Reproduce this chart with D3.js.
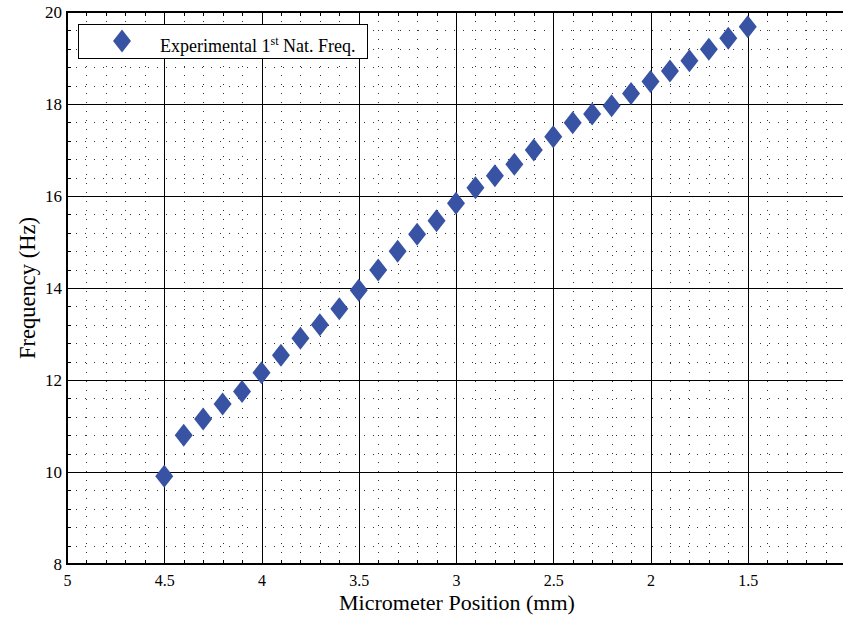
<!DOCTYPE html>
<html>
<head>
<meta charset="utf-8">
<script src="https://cdn.jsdelivr.net/npm/d3@7"></script>
<style>
  body { margin: 0; background: #fff; }
  svg text { font-family: "Liberation Serif", "Times New Roman", serif; fill: #000; }
</style>
</head>
<body>
<svg id="chart" width="843" height="619"></svg>
<script>
// Micrometer positions (mm) and measured first natural frequency (Hz)
const positions = [4.5, 4.4, 4.3, 4.2, 4.1, 4.0, 3.9, 3.8, 3.7, 3.6, 3.5,
                   3.4, 3.3, 3.2, 3.1, 3.0, 2.9, 2.8, 2.7, 2.6, 2.5,
                   2.4, 2.3, 2.2, 2.1, 2.0, 1.9, 1.8, 1.7, 1.6, 1.5];
const frequencies = [9.91, 10.80, 11.15, 11.48, 11.75, 12.16, 12.54, 12.91, 13.20, 13.55, 13.95,
                     14.39, 14.80, 15.17, 15.46, 15.84, 16.18, 16.44, 16.69, 17.00, 17.29,
                     17.59, 17.78, 17.96, 18.23, 18.49, 18.72, 18.94, 19.19, 19.43, 19.68];
const xTicks = [5, 4.5, 4, 3.5, 3, 2.5, 2, 1.5];
const yTicks = [8, 10, 12, 14, 16, 18, 20];
const xMinorTicks = d3.range(10, 51).map(d => d / 10);
const yMinorTicks = d3.range(0, 31).map(i => +(8 + i * 0.4).toFixed(1));
const xLabel = "Micrometer Position (mm)";
const yLabel = "Frequency (Hz)";
const seriesName = "Experimental 1";

const serif = '"Liberation Serif", "Times New Roman", serif';
const svg = d3.select("#chart");
const plotLeft = 67, plotTop = 12, plotRight = 845, plotBottom = 564;

const x = d3.scaleLinear().domain([5, 1]).range([plotLeft, plotRight]);
const y = d3.scaleLinear().domain([8, 20]).range([plotBottom, plotTop]);

const crisp = v => Math.round(v) + 0.5;

// Minor dotted grid
const grid = svg.append("g");
grid.selectAll("line.mx").data(xMinorTicks).join("line")
  .attr("x1", d => crisp(x(d))).attr("x2", d => crisp(x(d)))
  .attr("y1", plotTop).attr("y2", plotBottom)
  .attr("stroke", "#333").attr("stroke-width", 1).attr("stroke-dasharray", "1,8");
grid.selectAll("line.my").data(yMinorTicks).join("line")
  .attr("y1", d => crisp(y(d))).attr("y2", d => crisp(y(d)))
  .attr("x1", plotLeft).attr("x2", plotRight)
  .attr("stroke", "#333").attr("stroke-width", 1).attr("stroke-dasharray", "1,8");

// Major solid grid
grid.selectAll("line.gx").data(xTicks).join("line")
  .attr("x1", d => crisp(x(d))).attr("x2", d => crisp(x(d)))
  .attr("y1", plotTop).attr("y2", plotBottom)
  .attr("stroke", "#000").attr("stroke-width", 1);
grid.selectAll("line.gy").data(yTicks).join("line")
  .attr("y1", d => crisp(y(d))).attr("y2", d => crisp(y(d)))
  .attr("x1", plotLeft).attr("x2", plotRight)
  .attr("stroke", "#000").attr("stroke-width", 1);

// Inward minor ticks on left, bottom and top edges
const ticks = svg.append("g").attr("stroke", "#000").attr("stroke-width", 1);
ticks.selectAll("line.tl").data(yMinorTicks).join("line")
  .attr("x1", plotLeft).attr("x2", plotLeft + 4)
  .attr("y1", d => crisp(y(d))).attr("y2", d => crisp(y(d)));
ticks.selectAll("line.tb").data(xMinorTicks).join("line")
  .attr("x1", d => crisp(x(d))).attr("x2", d => crisp(x(d)))
  .attr("y1", plotBottom).attr("y2", plotBottom - 4);
ticks.selectAll("line.tt").data(xMinorTicks).join("line")
  .attr("x1", d => crisp(x(d))).attr("x2", d => crisp(x(d)))
  .attr("y1", plotTop).attr("y2", plotTop + 4);

// Axis frame
svg.append("path")
  .attr("d", `M${plotRight},${plotTop}H${plotLeft}V${plotBottom}H${plotRight}`)
  .attr("stroke", "#000").attr("stroke-width", 2).attr("fill", "none");

// Tick labels via d3 axes
const xAxis = d3.axisBottom(x).tickValues(xTicks).tickSize(0).tickPadding(11)
  .tickFormat(d3.format("~g"));
svg.append("g").attr("transform", `translate(0,${plotBottom})`).call(xAxis)
  .attr("font-family", serif).attr("font-size", 16)
  .call(g => g.select(".domain").remove());

const yAxis = d3.axisLeft(y).tickValues(yTicks).tickSize(0).tickPadding(5)
  .tickFormat(d3.format("~g"));
svg.append("g").attr("transform", `translate(${plotLeft},0)`).call(yAxis)
  .attr("font-family", serif).attr("font-size", 17)
  .call(g => g.select(".domain").remove());

// Data markers (diamonds)
const diamond = (w, h) => `M0,${-h / 2}L${w / 2},0L0,${h / 2}L${-w / 2},0Z`;
const markerColor = "#3953a4";
svg.append("g").selectAll("path").data(positions.map((p, i) => [p, frequencies[i]])).join("path")
  .attr("transform", d => `translate(${x(d[0])},${y(d[1])})`)
  .attr("d", diamond(18, 23))
  .attr("fill", markerColor);

// Axis titles
svg.append("text").attr("x", (plotLeft + plotRight) / 2 + 1).attr("y", 610)
  .attr("text-anchor", "middle").attr("font-size", 22).text(xLabel);
svg.append("text").attr("transform", `translate(35,${(plotTop + plotBottom) / 2}) rotate(-90)`)
  .attr("text-anchor", "middle").attr("font-size", 22.5).text(yLabel);

// Legend
const legend = svg.append("g");
legend.append("rect").attr("x", 78.5).attr("y", 24.5).attr("width", 289).attr("height", 34)
  .attr("fill", "#fff").attr("stroke", "#000").attr("stroke-width", 1);
legend.append("path").attr("transform", "translate(122,41)").attr("d", diamond(18, 23)).attr("fill", markerColor);
const lt = legend.append("text").attr("x", 160).attr("y", 51.5).attr("font-size", 18);
lt.append("tspan").text(seriesName);
lt.append("tspan").attr("dy", -7).attr("font-size", 12).text("st");
lt.append("tspan").attr("dy", 7).text(" Nat. Freq.");
</script>
</body>
</html>
